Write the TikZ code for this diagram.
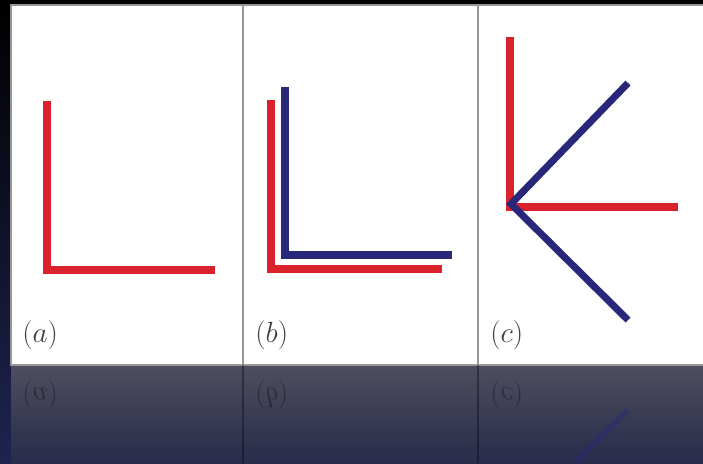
\documentclass[tikz,border=0pt]{standalone}
\usetikzlibrary{calc}
\definecolor{barred}{RGB}{218,34,44}
\definecolor{barblue}{RGB}{40,40,122}
\definecolor{framegray}{RGB}{150,150,150}
\tikzset{
  redbar/.style={draw=barred, line width=5pt, line join=miter},
  bluebar/.style={draw=barblue, line width=5pt, line join=miter},
  panellabel/.style={anchor=west, inner sep=0pt, text=black!75, font=\fontsize{22}{26}\selectfont}
}
\begin{document}
\begin{tikzpicture}[x=0.025cm, y=-0.025cm]
    \useasboundingbox (0,0) rectangle (703,463);
    % background and reflection floor
    \shade[top color=black, bottom color={rgb,255:red,30;green,36;blue,80}] (0,0) rectangle (703,463);
    \shade[top color={rgb,255:red,78;green,78;blue,96}, bottom color={rgb,255:red,40;green,43;blue,74}] (11,365) rectangle (703,463);
    % white panel
    \filldraw[fill=white, draw=framegray, line width=1pt] (11,5) rectangle (705,365);
    \draw[framegray, line width=1pt] (243,5) -- (243,365);
    \draw[framegray, line width=1pt] (478,5) -- (478,365);
    % (a)
    \coordinate (ca) at (47,270);
    \draw[redbar] (47,101) -- (ca) -- (215,270);
    \node[panellabel] (la) at (22,335) {$(a)$};
    % (b)
    \coordinate (cb) at (271,269);
    \coordinate (cbb) at (285,255);
    \draw[redbar] (271,100) -- (cb) -- (442,269);
    \draw[bluebar] (285,87) -- (cbb) -- (452,255);
    \node[panellabel] (lb) at (255,335) {$(b)$};
    % (c)
    \coordinate (cc) at (510,207);
    \draw[redbar] (510,37) -- (cc) -- (678,207);
    \draw[bluebar] (628,83) -- (511,204) -- (628,320);
    \node[panellabel] (lc) at (490,335) {$(c)$};
    % faded reflection
    \begin{scope}
      \clip (11,365) rectangle (703,463);
      \draw[black, opacity=0.35, line width=1pt] (243,365) -- (243,463);
      \draw[black, opacity=0.35, line width=1pt] (478,365) -- (478,463);
      \draw[barblue, line width=4pt, opacity=0.45] (628,410) -- (575,462);
      \node[panellabel, text=black, yscale=-1, opacity=0.35] (ra) at (22,395) {$(a)$};
      \node[panellabel, text=black, yscale=-1, opacity=0.35] (rb) at (255,395) {$(b)$};
      \node[panellabel, text=black, yscale=-1, opacity=0.35] (rc) at (490,395) {$(c)$};
    \end{scope}
\end{tikzpicture}
\end{document}
